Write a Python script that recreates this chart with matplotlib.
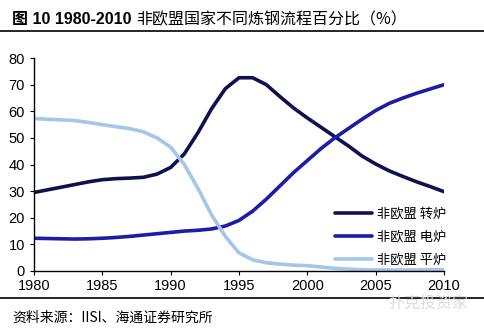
import matplotlib
matplotlib.use("Agg")
import matplotlib.pyplot as plt
from matplotlib.lines import Line2D

plt.rcParams['font.family'] = ['Liberation Sans', 'Noto Sans CJK SC', 'DejaVu Sans']

years = list(range(1980, 2011))

# 转炉 (BOF) share, %
bof = [29.5, 30.5, 31.5, 32.5, 33.5, 34.3, 34.7, 34.9, 35.2, 36.4,
       38.9, 44.0, 52.0, 61.0, 68.5, 72.6, 72.6, 70.0, 65.5, 61.2,
       57.5, 54.0, 50.5, 47.0, 43.2, 40.2, 37.6, 35.5, 33.5, 31.7,
       29.8]
# 电炉 (EAF) share, %
eaf = [12.3, 12.2, 12.1, 12.0, 12.1, 12.3, 12.6, 13.0, 13.5, 14.0,
       14.5, 15.0, 15.3, 15.8, 16.9, 19.0, 22.5, 27.0, 32.0, 37.0,
       41.5, 46.0, 50.0, 53.5, 57.0, 60.3, 63.0, 65.0, 66.8, 68.4,
       70.0]
# 平炉 (open hearth) share, %
ohf = [57.3, 57.0, 56.8, 56.5, 55.8, 55.0, 54.2, 53.5, 52.3, 50.0,
       46.5, 40.0, 31.0, 21.0, 13.0, 6.8, 4.2, 3.1, 2.6, 2.2,
       2.0, 1.5, 1.0, 0.7, 0.5, 0.4, 0.4, 0.4, 0.4, 0.5,
       0.5]

series_names = ["非欧盟 转炉", "非欧盟 电炉", "非欧盟 平炉"]
colors = ["#10104f", "#1c1ca6", "#a3c6ea"]

xticks = [1980, 1985, 1990, 1995, 2000, 2005, 2010]
yticks = [0, 10, 20, 30, 40, 50, 60, 70, 80]

fig = plt.figure(figsize=(4.85, 3.28), dpi=100)
ax = fig.add_axes([0.0701, 0.1738, 0.8454, 0.6492])

for vals, name, c in zip([bof, eaf, ohf], series_names, colors):
    ax.plot(years, vals, color=c, lw=2.6, solid_capstyle='round',
            solid_joinstyle='round', label=name)

ax.set_xlim(1980, 2010)
ax.set_ylim(0, 80)
ax.set_xticks(xticks)
ax.set_yticks(yticks)
ax.tick_params(axis='both', labelsize=10.5, length=3, width=0.8, colors='black')
ax.tick_params(axis='x', pad=3)
for side in ['top', 'right']:
    ax.spines[side].set_visible(False)
for side in ['left', 'bottom']:
    ax.spines[side].set_linewidth(1.0)

leg = ax.legend(loc='lower right', bbox_to_anchor=(1.034, -0.036), frameon=False,
                handlelength=2.8, handletextpad=0.35, labelspacing=0.75,
                prop={'family': ['Noto Sans CJK SC', 'DejaVu Sans'], 'size': 9.5})

# frame rules above and below the chart
fig.add_artist(Line2D([0, 1], [0.9055, 0.9055], color='black', lw=1.2))
fig.add_artist(Line2D([0, 1], [0.0915, 0.0915], color='black', lw=1.2))

# title: bold figure number, regular description
t1 = fig.text(0.025, 0.94, "图 10 1980-2010 ", fontsize=11.5, fontweight='bold',
              va='center', ha='left', family=['Liberation Sans', 'Noto Sans CJK SC'])
fig.canvas.draw()
bb = t1.get_window_extent().transformed(fig.transFigure.inverted())
fig.text(bb.x1, 0.94, "非欧盟国家不同炼钢流程百分比（%）", fontsize=11.5,
         va='center', ha='left', family=['Noto Sans CJK SC', 'DejaVu Sans'])

fig.text(0.025, 0.03, "资料来源：IISI、海通证券研究所", fontsize=10,
         va='center', ha='left', family=['Noto Sans CJK SC', 'DejaVu Sans'])
fig.text(0.965, 0.075, "扑克投资家", fontsize=11.5, color='#dcdcdc',
         va='center', ha='right', family=['Noto Sans CJK SC', 'DejaVu Sans'])

fig.savefig("out.png", dpi=100)
